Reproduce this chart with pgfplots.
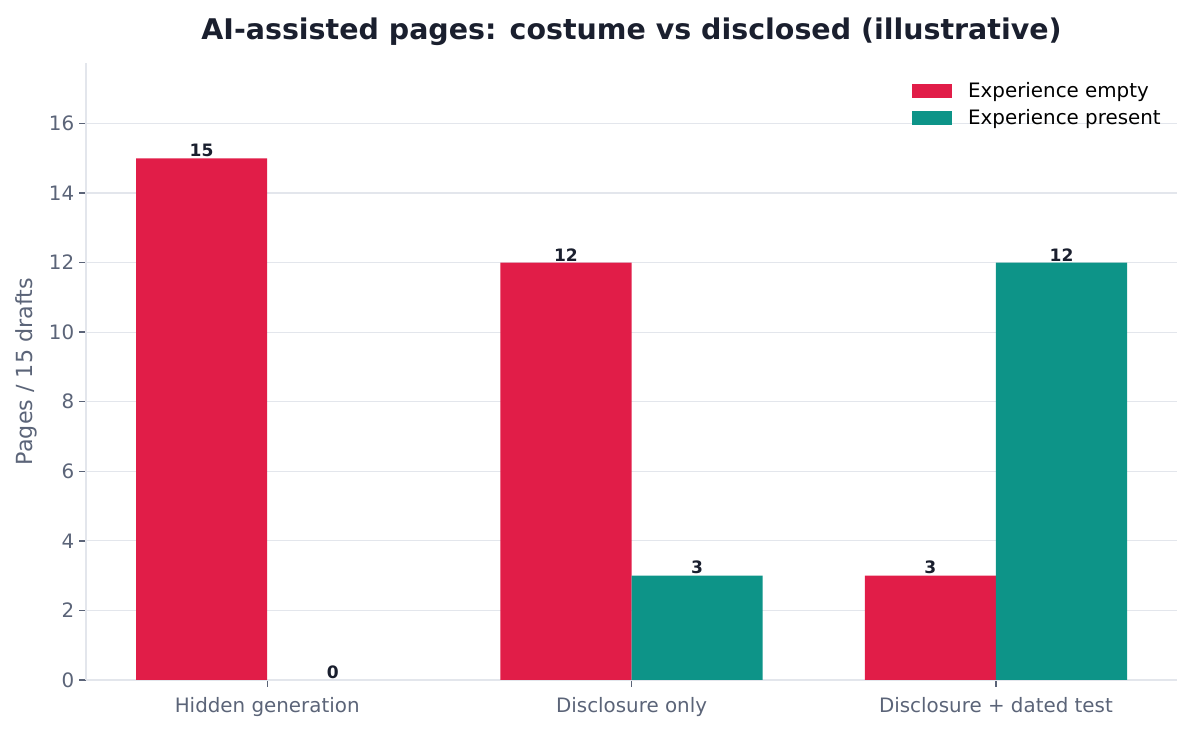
\documentclass[border=0pt]{standalone}
\usepackage{pgfplots}
\pgfplotsset{compat=1.18}
\usepackage{fontspec}
\setmainfont{DejaVu Sans}
\definecolor{cRed}{HTML}{E11D48}
\definecolor{cTeal}{HTML}{0D9488}
\definecolor{cText}{HTML}{5B6478}
\definecolor{cDark}{HTML}{1A1F2E}
\definecolor{cGrid}{HTML}{E3E6EC}
\begin{document}
\begin{tikzpicture}
\useasboundingbox (-62pt,-36.7pt) rectangle (797pt,489.6pt);
\begin{axis}[
    scale only axis,
    width=785.5pt, height=444pt,
    at={(0,0)}, anchor=south west,
    xmin=-0.497, xmax=2.497,
    ymin=0, ymax=17.73,
    xtick={0,1,2},
    xticklabels={Hidden generation, Disclosure only, Disclosure + dated test},
    ytick={0,2,...,16},
    /pgf/number format/assume math mode=true,
    axis x line*=bottom, axis y line*=left,
    axis line style={cGrid, line width=1pt},
    major tick length=5pt,
    tick style={cText, line width=1pt},
    tick align=outside,
    ymajorgrids,
    grid style={cGrid, line width=0.9pt},
    ticklabel style={font=\fontsize{14.3}{17}\selectfont, text=cText},
    xticklabel style={yshift=-4pt},
    ylabel={Pages / 15 drafts},
    ylabel style={font=\fontsize{16}{19}\selectfont, text=cText, yshift=2pt},
    title={AI-assisted pages: costume vs disclosed (illustrative)},
    title style={font=\fontsize{20.5}{24}\selectfont\bfseries, text=cDark, yshift=3.5pt},
    ybar, bar width=0.36,
    nodes near coords,
    every node near coord/.append style={font=\fontsize{12.3}{14}\selectfont\bfseries, text=cDark, yshift=-2.5pt},
    legend style={draw=none, fill=none, at={(0.998,0.979)}, anchor=north east,
        font=\fontsize{14.3}{17}\selectfont, text=black,
        row sep=3.5pt, cells={anchor=west}, nodes={inner xsep=7pt}},
    legend image code/.code={\fill[#1] (0pt,-5pt) rectangle (28.8pt,5pt); \path (33.5pt,0pt);},
]
\addplot[fill=cRed, draw=none, bar shift=-0.18] coordinates {(0,15) (1,12) (2,3)};
\addplot[fill=cTeal, draw=none, bar shift=0.18] coordinates {(1,3) (2,12)};
\addplot[draw=none, fill=none, bar shift=0.18, forget plot] coordinates {(0,0)};
\legend{Experience empty, Experience present}
\end{axis}
\end{tikzpicture}
\end{document}
